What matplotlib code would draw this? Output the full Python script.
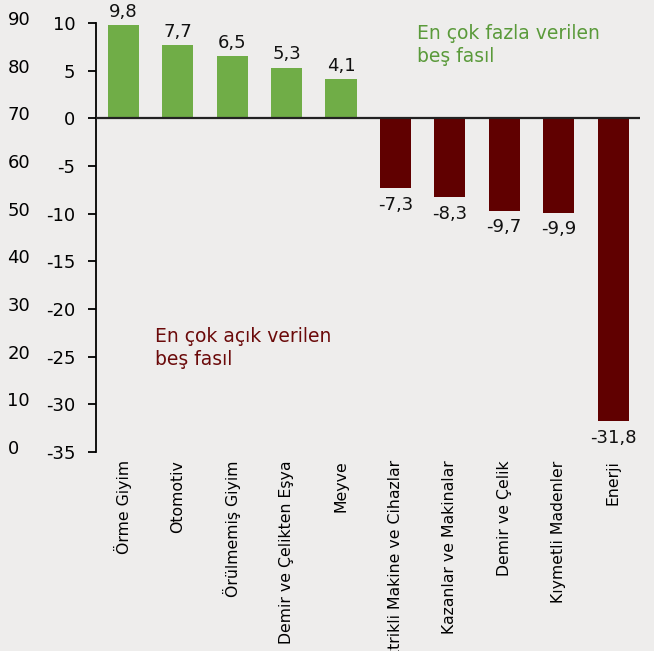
import matplotlib.pyplot as plt
import numpy as np

plt.rcParams['font.family'] = ['DejaVu Sans']

categories = ['Örme Giyim', 'Otomotiv', 'Örülmemiş Giyim', 'Demir ve Çelikten Eşya', 'Meyve',
              'Elektrikli Makine ve Cihazlar', 'Kazanlar ve Makinalar', 'Demir ve Çelik',
              'Kıymetli Madenler', 'Enerji']
values = [9.8, 7.7, 6.5, 5.3, 4.1, -7.3, -8.3, -9.7, -9.9, -31.8]
inner_ticks = [10, 5, 0, -5, -10, -15, -20, -25, -30, -35]
outer_ticks = [0, 10, 20, 30, 40, 50, 60, 70, 80, 90]

green = '#70ad47'
red = '#600000'
bg = '#eeedec'

fig = plt.figure(figsize=(6.54, 6.51), dpi=100, facecolor=bg)
ax = fig.add_axes([0.147, 0.3057, 0.832, 0.659])
ax.set_facecolor(bg)

x = np.arange(len(values))
colors = [green if v > 0 else red for v in values]
ax.bar(x, values, width=0.57, color=colors, zorder=2)

for xi, v in zip(x, values):
    lab = ('%.1f' % v).replace('.', ',')
    if v > 0:
        ax.text(xi, v + 0.45, lab, ha='center', va='bottom', fontsize=13, color='#111111')
    else:
        ax.text(xi, v - 0.8, lab, ha='center', va='top', fontsize=13, color='#111111')

ax.set_xlim(-0.5, 9.5)
ax.set_ylim(-35, 10)
ax.set_yticks(inner_ticks)
ax.set_yticklabels([str(t) for t in inner_ticks], fontsize=13)
ax.tick_params(axis='y', direction='out', length=6, width=1.3, pad=9)
ax.axhline(0, color='#222222', lw=1.6, zorder=3)

ax.set_xticks(x)
ax.set_xticklabels(categories, rotation=90, fontsize=11.3, va='top')
ax.tick_params(axis='x', length=0, pad=6)

for s in ['top', 'right', 'bottom']:
    ax.spines[s].set_visible(False)
ax.spines['left'].set_linewidth(1.3)

ax.text(5.39, 9.9, 'En çok fazla verilen\nbeş fasıl', color='#5a9a3a', fontsize=13.5,
        va='top', ha='left', linespacing=1.25)
ax.text(0.59, -21.9, 'En çok açık verilen\nbeş fasıl', color='#6b0a0a', fontsize=13.5,
        va='top', ha='left', linespacing=1.25)

# outer scale on the far left
ax2 = fig.add_axes([0.005, 0.3134, 0.01, 0.659])
ax2.set_ylim(0, 90)
ax2.set_yticks(outer_ticks)
ax2.set_yticklabels([str(t) for t in outer_ticks], fontsize=13)
ax2.set_xticks([])
for s in ax2.spines.values():
    s.set_visible(False)
ax2.patch.set_visible(False)
for t in ax2.get_yticklabels():
    t.set_horizontalalignment('left')
ax2.tick_params(axis='y', length=0, pad=-3)

fig.savefig('out.png', dpi=100, facecolor=bg)
